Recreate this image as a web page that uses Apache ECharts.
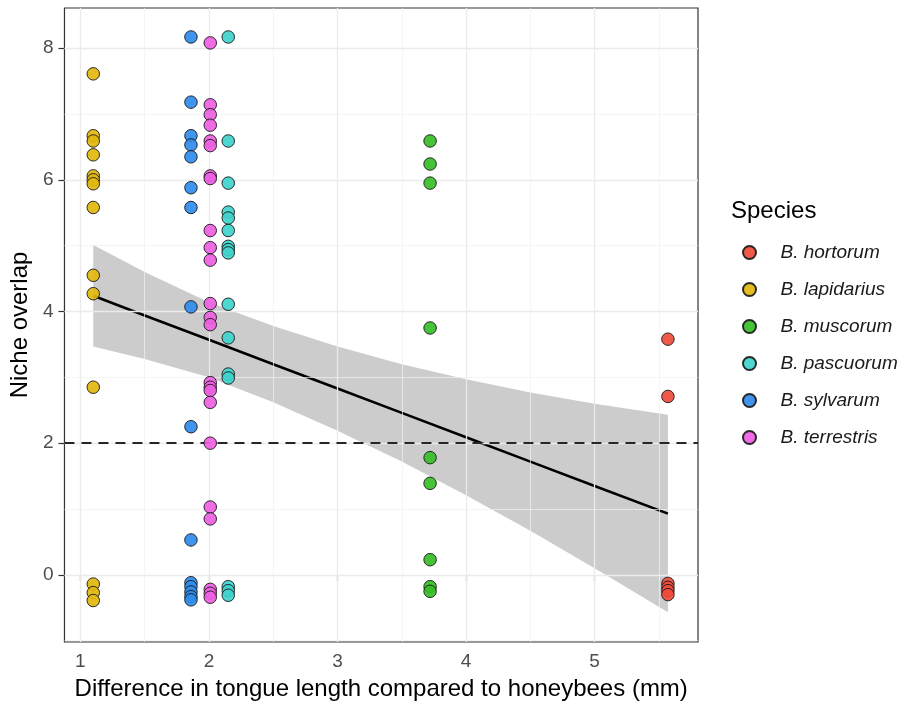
<!DOCTYPE html>
<html><head><meta charset="utf-8">
<script src="https://cdn.jsdelivr.net/npm/echarts@6/dist/echarts.min.js"></script>
<style>html,body{margin:0;padding:0;background:#fff}#c{width:900px;height:706px}</style>
</head><body><div id="c"></div>
<script>
// ---- data ----
const speciesNames = ['B. hortorum', 'B. lapidarius', 'B. muscorum', 'B. pascuorum', 'B. sylvarum', 'B. terrestris'];
const speciesX = [5.57, 1.1, 3.72, 2.15, 1.86, 2.01];
const hortorumY = [3.58, 2.71, -0.13, -0.19, -0.24, -0.30];
const lapidariusY = [7.61, 6.67, 6.59, 6.38, 6.06, 6.00, 5.94, 5.58, 4.55, 4.27, 2.85, -0.14, -0.27, -0.39];
const muscorumY = [6.59, 6.24, 5.95, 3.75, 1.78, 1.39, 0.23, -0.18, -0.25];
const pascuorumY = [8.17, 6.59, 5.95, 5.51, 5.42, 5.23, 4.99, 4.94, 4.89, 4.11, 3.60, 3.05, 2.99, -0.18, -0.24, -0.31];
const sylvarumY = [8.17, 7.18, 6.67, 6.53, 6.35, 5.88, 5.58, 4.07, 2.25, 0.53, -0.12, -0.18, -0.26, -0.33, -0.38];
const terrestrisY = [8.08, 7.14, 6.99, 6.83, 6.59, 6.52, 6.06, 6.02, 5.23, 4.97, 4.78, 4.12, 3.91, 3.80, 2.92, 2.85, 2.80, 2.62, 2.00, 1.03, 0.85, -0.22, -0.28, -0.34];
const speciesY = [hortorumY, lapidariusY, muscorumY, pascuorumY, sylvarumY, terrestrisY];

// linear smooth (fit and 95% band) read at several x positions
const smoothX     = [1.1, 1.5, 2.0, 2.5, 3.0, 3.5, 4.0, 4.5, 5.0, 5.57];
const smoothFit   = [4.24, 3.94, 3.57, 3.20, 2.83, 2.46, 2.09, 1.72, 1.35, 0.93];
const smoothUpper = [5.01, 4.60, 4.14, 3.78, 3.47, 3.20, 2.97, 2.77, 2.60, 2.43];
const smoothLower = [3.47, 3.28, 3.00, 2.62, 2.19, 1.72, 1.21, 0.67, 0.10, -0.57];

const hlineY = 2;
const xTicks = [1, 2, 3, 4, 5];
const yTicks = [0, 2, 4, 6, 8];
const xMinor = [1.5, 2.5, 3.5, 4.5, 5.5];
const yMinor = [-1, 1, 3, 5, 7];
const xRange = [0.876, 5.804];
const yRange = [-1.02, 8.61];

// ---- styles ----
const colors = ['#EE4B3B', '#E2B70E', '#36BE26', '#3FD3CC', '#2F8CEC', '#EE5FE3'];
const FONT = '"Liberation Sans", Arial, sans-serif';

const gridLineData = []
  .concat(xTicks.map(v => ({ xAxis: v })))
  .concat(yTicks.map(v => ({ yAxis: v })))
  .concat(xMinor.map(v => ({ xAxis: v, lineStyle: { width: 0.7, color: '#f0f0f0' } })))
  .concat(yMinor.map(v => ({ yAxis: v, lineStyle: { width: 0.7, color: '#f0f0f0' } })));

const series = [
  {
    type: 'line', data: [], silent: true, z: 0,
    markLine: { symbol: 'none', silent: true, animation: false, label: { show: false },
      lineStyle: { color: '#ebebeb', width: 1.3, type: 'solid' }, data: gridLineData }
  },
  {
    type: 'line', data: [], silent: true, z: 1,
    markLine: { symbol: 'none', silent: true, animation: false, label: { show: false },
      lineStyle: { color: '#262626', width: 2, type: [10, 7] }, data: [{ yAxis: hlineY }] }
  },
  {
    type: 'custom', silent: true, z: 2,
    data: [[smoothX[0], smoothUpper[0]]],
    renderItem: function (params, api) {
      if (params.dataIndex > 0) return null;
      const pts = [];
      for (let i = 0; i < smoothX.length; i++) pts.push(api.coord([smoothX[i], smoothUpper[i]]));
      for (let i = smoothX.length - 1; i >= 0; i--) pts.push(api.coord([smoothX[i], smoothLower[i]]));
      return { type: 'polygon', shape: { points: pts }, style: { fill: 'rgba(153,153,153,0.5)' } };
    }
  },
  {
    type: 'line', silent: true, z: 3, showSymbol: false, symbol: 'none',
    data: smoothX.map((x, i) => [x, smoothFit[i]]),
    lineStyle: { color: '#000', width: 2.6 }
  }
];
speciesNames.forEach((name, k) => {
  series.push({
    name: name, type: 'scatter', z: 5, symbol: 'circle', symbolSize: 12.5,
    data: speciesY[k].map(y => [speciesX[k], y]),
    itemStyle: { color: colors[k], borderColor: '#1a1a1a', borderWidth: 1, opacity: 0.92 }
  });
});

const chart = echarts.init(document.getElementById('c'), null, { renderer: 'canvas' });
chart.setOption({
  animation: false,
  backgroundColor: '#fff',
  title: { text: 'Species', left: 731, top: 199, padding: 0,
    textStyle: { fontSize: 24, fontWeight: 'normal', color: '#000', fontFamily: FONT } },
  legend: {
    orient: 'vertical', left: 742, top: 243, padding: 0,
    itemWidth: 40, itemHeight: 13, itemGap: 18, icon: 'circle',
    data: speciesNames,
    textStyle: { fontSize: 19, lineHeight: 19, fontStyle: 'italic', color: '#1a1a1a', fontFamily: FONT, padding: [0, 0, 0, 6] }
  },
  grid: { left: 60, right: 202, top: 8, bottom: 60.5, show: true, borderColor: '#333', borderWidth: 1.2, backgroundColor: '#fff' },
  xAxis: {
    type: 'value', min: xRange[0], max: xRange[1],
    axisLine: { show: false }, splitLine: { show: false },
    axisTick: { show: true, customValues: xTicks, length: 6, lineStyle: { color: '#333', width: 1.2 } },
    axisLabel: { customValues: xTicks, margin: 10, fontSize: 19, color: '#4d4d4d', fontFamily: FONT },
    name: 'Difference in tongue length compared to honeybees (mm)', nameLocation: 'middle', nameGap: 35,
    nameTextStyle: { fontSize: 24, color: '#000', fontFamily: FONT }
  },
  yAxis: {
    type: 'value', min: yRange[0], max: yRange[1],
    axisLine: { show: false }, splitLine: { show: false },
    axisTick: { show: true, customValues: yTicks, length: 6, lineStyle: { color: '#333', width: 1.2 } },
    axisLabel: { customValues: yTicks, margin: 11, fontSize: 19, color: '#4d4d4d', fontFamily: FONT },
    name: 'Niche overlap', nameLocation: 'middle', nameGap: 28, nameRotate: 90,
    nameTextStyle: { fontSize: 24, color: '#000', fontFamily: FONT }
  },
  series: series
});
</script></body></html>
